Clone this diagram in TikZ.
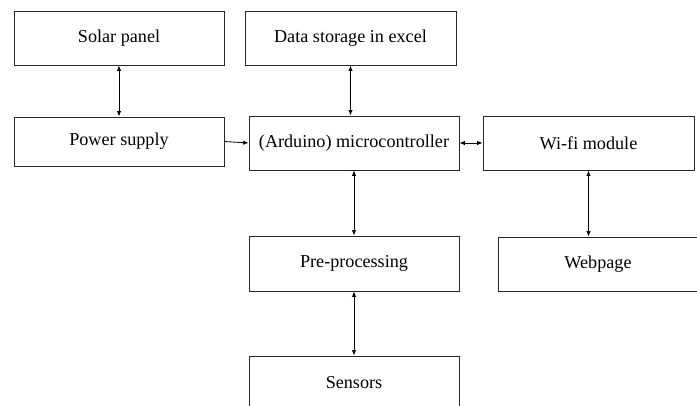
\documentclass[tikz,border=0pt]{standalone}
\usepackage{fontspec}
\setmainfont{Liberation Serif}
\usepackage{tikz}
\usetikzlibrary{arrows.meta}
\usetikzlibrary{positioning}

\tikzset{
  blockbox/.style={draw=black!85, line width=0.8pt, rectangle, inner sep=0pt,
    font=\fontsize{15.5}{18}\selectfont},
  link/.style={line width=0.7pt, {Latex[length=1.6mm,width=1.3mm]}-{Latex[length=1.6mm,width=1.3mm]}},
  onelink/.style={line width=0.7pt, -{Latex[length=1.6mm,width=1.3mm]}}
}

\begin{document}
\begin{tikzpicture}
\clip (0,0) rectangle (20.91,12.15);
\useasboundingbox (0,0) rectangle (20.91,12.15);

% top row
\node[blockbox, minimum width=6.3cm, minimum height=1.62cm] (solar) at (3.57,11.01) {Solar panel};
\node[blockbox, minimum width=6.33cm, minimum height=1.62cm] (storage) at (10.515,11.01) {Data storage in excel};

% middle row
\node[blockbox, minimum width=6.3cm, minimum height=1.47cm] (power) at (3.57,7.905) {Power supply};
\node[blockbox, minimum width=6.3cm, minimum height=1.62cm] (arduino) at (10.62,7.86) {(Arduino) microcontroller};
\node[blockbox, minimum width=6.33cm, minimum height=1.62cm] (wifi) at (17.655,7.86) {Wi-fi module};

% lower rows
\node[blockbox, minimum width=6.3cm, minimum height=1.65cm] (preproc) at (10.62,4.245) {Pre-processing};
\node[blockbox, minimum width=6.0cm, minimum height=1.62cm] (webpage) at (17.94,4.23) {Webpage};
\node[blockbox, minimum width=6.3cm, minimum height=1.62cm] (sensors) at (10.62,0.66) {Sensors};

% connections
\draw[link] (solar.south) -- (power.north);
\draw[link] (storage.south) -- (storage.south |- arduino.north);
\draw[onelink] (power.east) -- (arduino.west);
\draw[link] (arduino.east) -- (wifi.west);
\draw[link] (arduino.south) -- (preproc.north);
\draw[link] (wifi.south) -- (wifi.south |- webpage.north);
\draw[link] (preproc.south) -- (sensors.north);

\end{tikzpicture}
\end{document}
